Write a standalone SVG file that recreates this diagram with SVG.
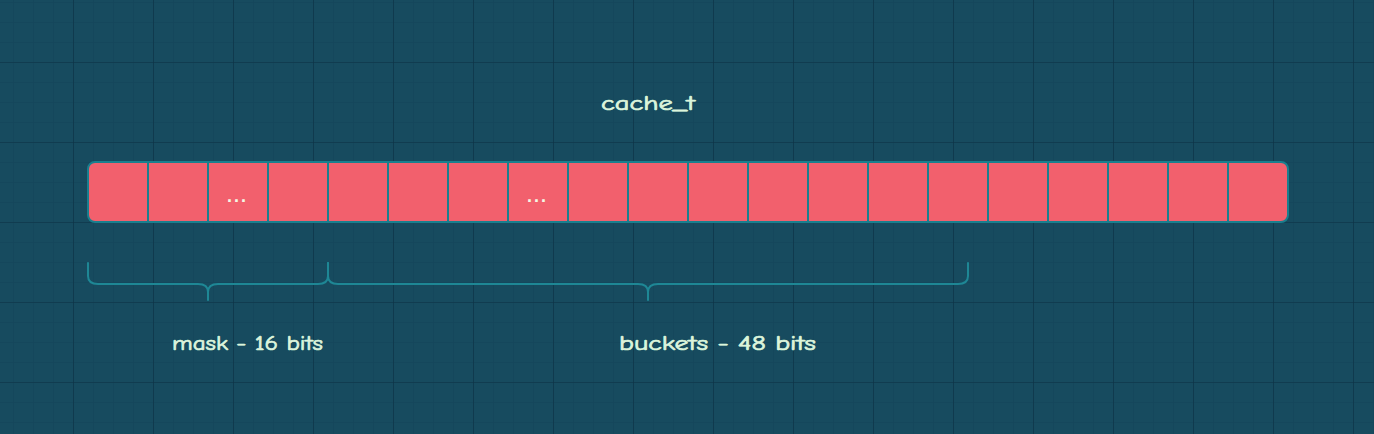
<svg xmlns="http://www.w3.org/2000/svg" width="1374" height="434" viewBox="0 0 1374 434">
  <defs>
    <pattern id="minor" x="13" y="2" width="20" height="20" patternUnits="userSpaceOnUse">
      <path d="M0 0H20M0 0V20" fill="none" stroke="#13445a" stroke-width="1.2"/>
    </pattern>
    <pattern id="major" x="73" y="62" width="80" height="80" patternUnits="userSpaceOnUse">
      <path d="M0 0H80M0 0V80" fill="none" stroke="#0d3243" stroke-width="1.2"/>
    </pattern>
  </defs>
  <style>
    .cell { fill: #f2606d; stroke: #1a7f8e; stroke-width: 2; }
    .sep { stroke: #1a7f8e; stroke-width: 2; }
    .brace { fill: none; stroke: #1e8795; stroke-width: 2; stroke-linecap: round; stroke-linejoin: round; }
    .lbl { fill: #dcf5dc; stroke: #dcf5dc; stroke-width: 0.7; font-family: "Comic Neue", "Liberation Sans", sans-serif; font-size: 20px; }
    .dots { fill: #f3f8e4; font-family: "Liberation Sans", sans-serif; font-size: 18px; font-weight: bold; letter-spacing: 2px; }
  </style>
  <rect width="1374" height="434" fill="#174b5f"/>
  <rect width="1374" height="434" fill="url(#minor)"/>
  <rect width="1374" height="434" fill="url(#major)"/>

  <g id="title">
    <text class="lbl" x="601" y="110" textLength="94" lengthAdjust="spacingAndGlyphs">cache_t</text>
  </g>

  <g id="strip">
    <rect class="cell" x="88" y="162" width="1200" height="60" rx="7"/>
    <g id="separators">
      <path class="sep" d="M148 162V222M208 162V222M268 162V222M328 162V222M388 162V222M448 162V222M508 162V222M568 162V222M628 162V222M688 162V222M748 162V222M808 162V222M868 162V222M928 162V222M988 162V222M1048 162V222M1108 162V222M1168 162V222M1228 162V222"/>
    </g>
    <text class="dots" x="227" y="202">...</text>
    <text class="dots" x="527" y="202">...</text>
  </g>

  <g id="connectors">
    <path id="brace-mask" class="brace" d="M88 263V276Q88 284 98 284H198Q208 284 208 292V300M208 292Q208 284 218 284H318Q328 284 328 276V263"/>
    <path id="brace-buckets" class="brace" d="M328 263V276Q328 284 338 284H638Q648 284 648 292V300M648 292Q648 284 658 284H958Q968 284 968 276V263"/>
  </g>

  <g id="mask-label">
    <text class="lbl" x="172" y="350" textLength="151" lengthAdjust="spacingAndGlyphs">mask - 16 bits</text>
  </g>
  <g id="buckets-label">
    <text class="lbl" x="619" y="350" textLength="197" lengthAdjust="spacingAndGlyphs">buckets - 48 bits</text>
  </g>
</svg>
